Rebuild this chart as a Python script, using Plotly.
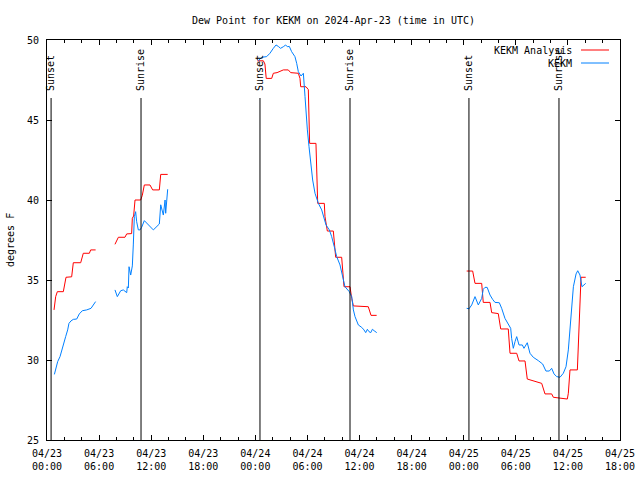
import plotly.graph_objects as go

# ---- data (hours since 2024-04-23 00:00 UTC, dew point degrees F) ----
analysis_hours = [
    0.81, 1.0, 1.19, 1.88, 2.19, 2.84, 3.03, 3.88, 4.18, 4.88, 5.03, 5.6, None,
    7.83, 8.22, 8.98, 9.18, 9.75, 9.83, 9.98, 10.14, 10.79, 10.98, 11.21, 11.86, 12.17, 12.94, 13.1, 13.9, None,
    24.22, 24.92, 25.1, 25.25, 25.88, 26.07, 26.5, 27.22, 27.79, 28.07, 28.95, 29.14, 29.22, 29.83, 30.1,
    30.25, 30.98, 31.18, 31.94, 32.02, 32.29, 32.98, 33.25, 33.94, 34.21, 34.9, 35.1, 35.29, 37.01, 37.32, 37.97, None,
    48.34, 49.03, 49.3, 50.07, 50.25, 51.03, 51.22, 51.98, 52.26, 53.13, 53.33, 54.1, 54.37, 55.06, 55.32,
    56.21, 56.98, 57.36, 58.13, 58.32, 59.2, 59.93, 60.05, 60.24, 61.09, 61.32, 61.51, 62.05,
]
analysis_values = [
    33.13, 33.96, 34.27, 34.27, 35.17, 35.2, 36.08, 36.08, 36.67, 36.67, 36.88, 36.88, None,
    37.23, 37.67, 37.67, 37.88, 37.9, 38.86, 39.0, 40.0, 40.0, 40.3, 40.94, 40.94, 40.63, 40.63, 41.6, 41.6, None,
    48.7, 48.7, 48.5, 47.6, 47.6, 47.92, 47.96, 48.13, 48.13, 47.96, 47.92, 47.6, 47.08, 47.08, 46.9,
    43.54, 43.54, 39.79, 39.79, 38.96, 38.06, 38.06, 36.42, 36.42, 34.58, 34.58, 33.85, 33.38, 33.33, 32.79, 32.79, None,
    35.56, 35.56, 34.79, 34.79, 33.6, 33.6, 32.96, 32.9, 31.94, 31.94, 30.42, 30.42, 29.94, 29.94, 28.81,
    28.65, 28.54, 27.88, 27.88, 27.67, 27.6, 27.56, 27.92, 29.38, 29.38, 32.5, 35.17, 35.17,
]

obs_hours = [
    0.85, 1.04, 1.23, 1.5, 1.69, 1.88, 2.15, 2.38, 2.53, 2.76, 3.03, 3.42, 3.72, 4.07, 4.57, 5.07, 5.34, 5.6, None,
    7.83, 8.1, 8.49, 8.79, 9.18, 9.25, 9.37, 9.45, 9.64, 9.83, 9.94, 10.06, 10.21, 10.33, 10.52, 10.71, 10.9,
    11.21, 12.25, 12.94, 13.1, 13.4, 13.6, 13.67, 13.9, None,
    24.34, 24.73, 25.3, 25.68, 26.07, 26.38, 26.64, 26.9, 27.22, 27.49, 27.68, 27.91, 28.18, 28.56, 28.76,
    28.95, 29.26, 29.53, 29.72, 29.83, 29.99, 30.18, 30.37, 30.6, 30.87, 31.26, 31.64, 31.83, 32.14, 32.52,
    32.79, 33.09, 33.37, 33.75, 34.06, 34.32, 34.82, 35.1, 35.29, 35.48, 35.86, 36.25, 36.51, 36.71, 36.9,
    37.09, 37.29, 37.48, 37.68, 37.98, None,
    48.34, 48.61, 48.92, 49.3, 49.68, 50.07, 50.25, 50.45, 50.7, 51.03, 51.33, 51.6, 52.1, 52.37, 52.75,
    53.13, 53.41, 53.52, 53.71, 53.91, 54.1, 54.37, 54.75, 54.94, 55.32, 55.63, 56.01, 56.59, 57.09, 57.47,
    57.86, 58.13, 58.4, 58.71, 59.09, 59.47, 59.78, 60.05, 60.24, 60.63, 60.94, 61.13, 61.39, 61.62, 62.05,
]
obs_values = [
    29.1, 29.58, 29.9, 30.21, 30.63, 31.04, 31.46, 31.88, 32.29, 32.44, 32.54, 32.56, 32.88, 33.08, 33.13, 33.23, 33.44, 33.65, None,
    34.38, 33.96, 34.33, 34.38, 34.21, 34.58, 34.5, 35.83, 35.31, 35.88, 37.19, 38.96, 39.27, 38.64, 38.13, 38.13, 38.29,
    38.71, 38.13, 38.5, 39.7, 39.06, 40.0, 39.17, 40.67, None,
    48.7, 48.92, 48.96, 49.17, 49.48, 49.69, 49.6, 49.48, 49.58, 49.69, 49.58, 49.6, 49.27, 48.96, 48.54,
    48.02, 47.75, 47.92, 46.46, 45.42, 44.38, 43.33, 42.29, 41.25, 40.42, 39.79, 39.38, 38.96, 38.44, 38.13,
    37.71, 37.08, 36.46, 35.94, 35.21, 34.58, 34.27, 33.96, 33.13, 32.71, 32.19, 32.04, 31.88, 31.71, 31.92,
    31.77, 31.71, 31.92, 31.83, 31.71, None,
    33.23, 33.2, 33.44, 33.96, 33.44, 33.85, 34.42, 34.54, 34.54, 34.06, 33.79, 33.6, 33.58, 33.23, 32.6,
    32.29, 31.98, 31.35, 30.73, 31.15, 31.46, 30.94, 30.94, 30.73, 31.08, 30.42, 30.17, 29.96, 29.75, 29.31,
    29.31, 29.48, 29.13, 28.96, 28.92, 29.17, 29.58, 30.63, 32.08, 34.58, 35.38, 35.58, 35.31, 34.58, 34.79,
]

sunset_hours = [0.47, 24.53, 48.6]
sunrise_hours = [10.83, 34.9, 58.97]

tick_hours = [0, 6, 12, 18, 24, 30, 36, 42, 48, 54, 60, 66]
tick_labels = ["04/23<br>00:00", "04/23<br>06:00", "04/23<br>12:00", "04/23<br>18:00",
               "04/24<br>00:00", "04/24<br>06:00", "04/24<br>12:00", "04/24<br>18:00",
               "04/25<br>00:00", "04/25<br>06:00", "04/25<br>12:00", "04/25<br>18:00"]
y_ticks = [25, 30, 35, 40, 45, 50]

RED = "#ff0000"
BLUE = "#0080ff"
FONT = "DejaVu Sans Mono"

fig = go.Figure()
fig.add_trace(go.Scatter(x=analysis_hours, y=analysis_values, mode="lines",
                         line=dict(color=RED, width=1), name="KEKM Analysis",
                         connectgaps=False))
fig.add_trace(go.Scatter(x=obs_hours, y=obs_values, mode="lines",
                         line=dict(color=BLUE, width=1), name="KEKM",
                         connectgaps=False))

line_top = (440 - 98) / 400.0
label_bottom = (440 - 93) / 400.0
for name, hours in (("Sunset", sunset_hours), ("Sunrise", sunrise_hours)):
    for h in hours:
        fig.add_shape(type="line", xref="x", yref="paper", x0=h, x1=h, y0=0, y1=line_top,
                      line=dict(color="black", width=1))
        fig.add_annotation(x=h, y=label_bottom, xref="x", yref="paper", text=name,
                           textangle=-90, showarrow=False, xanchor="center", yanchor="bottom",
                           font=dict(family=FONT, size=10, color="black"))

# manual gnuplot-style legend (text, then sample line on the right)
legend_rows = [("KEKM Analysis", RED, (440 - 50) / 400.0), ("KEKM", BLUE, (440 - 63) / 400.0)]
for text, color, yy in legend_rows:
    fig.add_annotation(x=(574 - 47) / 573.0, y=yy, xref="paper", yref="paper", text=text,
                       showarrow=False, xanchor="right", yanchor="middle",
                       font=dict(family=FONT, size=10, color="black"))
    fig.add_shape(type="line", xref="paper", yref="paper",
                  x0=(581 - 47) / 573.0, x1=(609 - 47) / 573.0, y0=yy, y1=yy,
                  line=dict(color=color, width=1))

fig.add_annotation(x=(10 - 47) / 573.0, y=0.5, xref="paper", yref="paper", text="degrees F",
                   textangle=-90, showarrow=False, xanchor="center", yanchor="middle",
                   font=dict(family=FONT, size=10, color="black"))

fig.update_layout(
    width=640, height=480,
    margin=dict(l=47, r=20, t=40, b=40, pad=0, autoexpand=False),
    paper_bgcolor="white", plot_bgcolor="white",
    showlegend=False,
    font=dict(family=FONT, size=10, color="black"),
    title=dict(text="Dew Point for KEKM on 2024-Apr-23 (time in UTC)", x=0.5, xref="paper",
               xanchor="center", y=1 - 20 / 480.0, yanchor="middle",
               font=dict(family=FONT, size=10, color="black")),
    xaxis=dict(range=[0, 66], tickmode="array", tickvals=tick_hours, ticktext=tick_labels,
               automargin=False,
               showgrid=False, zeroline=False, showline=True, linecolor="black", linewidth=1,
               mirror="ticks", ticks="inside", ticklen=5, tickcolor="black", tickwidth=1,
               ticklabelstandoff=4,
               minor=dict(dtick=2, tick0=0, ticks="inside", ticklen=3, tickcolor="black", showgrid=False),
               tickfont=dict(family=FONT, size=10, color="black")),
    yaxis=dict(range=[25, 50], tickmode="array", tickvals=y_ticks,
               automargin=False,
               showgrid=False, zeroline=False, showline=True, linecolor="black", linewidth=1,
               mirror="ticks", ticks="inside", ticklen=5, tickcolor="black", tickwidth=1,
               ticklabelstandoff=5,
               tickfont=dict(family=FONT, size=10, color="black")),
)

fig.write_html("out.html", config={"displayModeBar": False},
               post_script="document.body.style.margin='0px';document.body.style.padding='0px';")
